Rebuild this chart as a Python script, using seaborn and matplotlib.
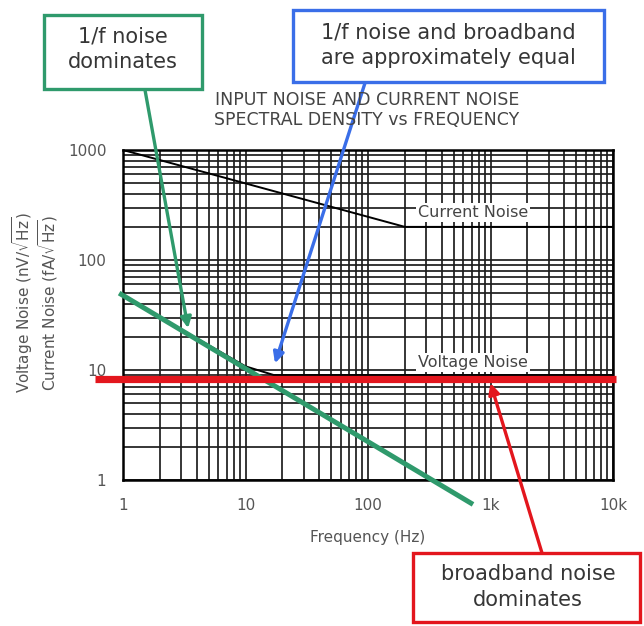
import matplotlib
matplotlib.use("Agg")
import matplotlib.pyplot as plt
import pandas as pd
import seaborn as sns
from matplotlib.patches import Rectangle
from matplotlib.ticker import FixedLocator, FixedFormatter, LogLocator, NullFormatter

# Noise spectral density curves (Hz vs nV/√Hz and fA/√Hz)
freq_current = [1, 200, 10000]
current_noise = [1000, 200, 200]
freq_voltage = [1, 10, 17, 10000]
voltage_noise = [47, 10.8, 9, 9]

# Hand-drawn asymptotes laid over the chart
onef_freq = [0.93, 720]
onef_level = [50, 0.6]
broadband_freq = [0.59, 10500]
broadband_level = [8.2, 8.2]

x_ticks = [1, 10, 100, 1000, 10000]
x_tick_labels = ["1", "10", "100", "1k", "10k"]
y_ticks = [1, 10, 100, 1000]
y_tick_labels = ["1", "10", "100", "1000"]

GREEN = "#2f9a6c"
BLUE = "#3a6ee8"
RED = "#e3161d"
TEXT = "#363636"
TICK = "#555555"

sns.set_theme(style="white")
plt.rcParams["font.family"] = ["DejaVu Sans"]

W, H = 644, 626
fig = plt.figure(figsize=(W / 100, H / 100), dpi=100)
fig.patch.set_facecolor("white")
ax = fig.add_axes([123 / W, 1 - 480 / H, 490 / W, 330 / H])
ax.set_xscale("log")
ax.set_yscale("log")

df_current = pd.DataFrame({"freq": freq_current, "noise": current_noise})
df_voltage = pd.DataFrame({"freq": freq_voltage, "noise": voltage_noise})
sns.lineplot(data=df_current, x="freq", y="noise", color="black", lw=1.4, ax=ax, zorder=3)
sns.lineplot(data=df_voltage, x="freq", y="noise", color="black", lw=1.4, ax=ax, zorder=3)

ax.set_xlim(1, 10000)
ax.set_ylim(1, 1000)

# Log grid with every minor decade line
for axis, ticks, labels in ((ax.xaxis, x_ticks, x_tick_labels), (ax.yaxis, y_ticks, y_tick_labels)):
    axis.set_major_locator(FixedLocator(ticks))
    axis.set_major_formatter(FixedFormatter(labels))
    axis.set_minor_locator(LogLocator(base=10, subs=range(2, 10)))
    axis.set_minor_formatter(NullFormatter())
ax.grid(True, which="both", color="#1e1e1e", lw=1.25)
ax.set_axisbelow(True)
ax.tick_params(which="both", length=0)
ax.tick_params(axis="x", labelsize=11, labelcolor=TICK, pad=13)
ax.tick_params(axis="y", labelsize=11, labelcolor=TICK, pad=12)
for sp in ax.spines.values():
    sp.set_color("black")
    sp.set_linewidth(1.8)

ax.set_xlabel("Frequency (Hz)", fontsize=11, color=TICK, labelpad=12)
ax.set_ylabel("")
fig.text(35 / W, 1 - 303 / H,
         "Voltage Noise (nV/$\\sqrt{\\mathrm{Hz}}$)\nCurrent Noise (fA/$\\sqrt{\\mathrm{Hz}}$)",
         rotation=90, ha="center", va="center", fontsize=11, color=TICK,
         multialignment="center", linespacing=1.1)

fig.text(367 / W, 1 - 110 / H,
         "INPUT NOISE AND CURRENT NOISE\nSPECTRAL DENSITY vs FREQUENCY",
         ha="center", va="center", fontsize=12.5, color="#444444", linespacing=1.15)

ax.text(720, 270, "Current Noise", ha="center", va="center", fontsize=11.5, color="#444444",
        bbox=dict(fc="white", ec="none", pad=1.5), zorder=4)
ax.text(720, 11.7, "Voltage Noise", ha="center", va="center", fontsize=11.5, color="#444444",
        bbox=dict(fc="white", ec="none", pad=1.5), zorder=4)

# Asymptote overlays
ax.plot(onef_freq, onef_level, color=GREEN, lw=3.6, clip_on=False, zorder=5,
        solid_capstyle="butt")
ax.plot(broadband_freq, broadband_level, color=RED, lw=5.2, clip_on=False, zorder=6,
        solid_capstyle="butt")

# Callout boxes
boxes = [
    ((44, 15, 202, 89), GREEN, "1/f noise\ndominates", (123, 49)),
    ((293, 10, 604, 82), BLUE, "1/f noise and broadband\nare approximately equal", (448, 45)),
    ((413, 553, 640, 622), RED, "broadband noise\ndominates", (528, 587)),
]
for (x0, y0, x1, y1), col, label, (cx, cy) in boxes:
    fig.add_artist(Rectangle((x0 / W, 1 - y1 / H), (x1 - x0) / W, (y1 - y0) / H,
                             transform=fig.transFigure, fc="white", ec=col, lw=2.4, zorder=7))
    fig.text(cx / W, 1 - cy / H, label, ha="center", va="center", fontsize=15,
             color=TEXT, linespacing=1.35, zorder=8)

# Callout arrows
arrows = [
    ((145, 90), (3.4, 24), GREEN),
    ((365, 83), (17.4, 11.5), BLUE),
    ((542, 553), (1000, 7.6), RED),
]
for (px, py), target, col in arrows:
    ax.annotate("", xy=target, xycoords="data", xytext=(px, H - py), textcoords="figure pixels",
                arrowprops=dict(arrowstyle="-|>", color=col, lw=2.4, mutation_scale=16,
                                shrinkA=0, shrinkB=0),
                annotation_clip=False, zorder=9)

fig.savefig("out.png", dpi=100, facecolor="white")
